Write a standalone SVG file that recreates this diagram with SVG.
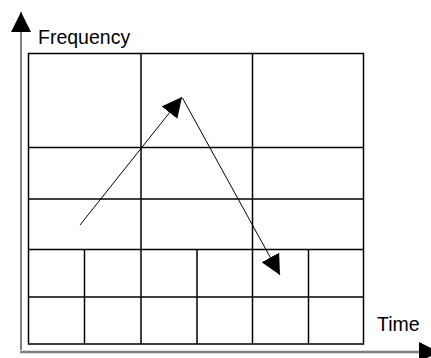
<svg xmlns="http://www.w3.org/2000/svg" width="431" height="358" viewBox="0 0 431 358">
<style>
.g{stroke:#000;stroke-width:1.5;fill:none}
.ar{stroke:#000;stroke-width:1;fill:none}
.t{font-family:"Liberation Sans",Arial,sans-serif;font-size:19.5px;fill:#000}
</style>
<defs>
<marker id="ah" markerUnits="userSpaceOnUse" markerWidth="20" markerHeight="20" refX="20" refY="10" orient="auto" viewBox="0 0 20 20">
<path d="M0,0 L20,10 L0,20 z" fill="#000"/>
</marker>
</defs>
<g id="axes">
<line x1="21" y1="350" x2="21" y2="12" class="ar" marker-end="url(#ah)"/>
<line x1="20" y1="352" x2="439" y2="352" stroke="#808080" stroke-width="2.5" marker-end="url(#ah)"/>
<text class="t" x="38" y="44">Frequency</text>
<text class="t" x="377" y="331">Time</text>
</g>
<g id="grid">
<rect x="28.5" y="53.5" width="335" height="290.5" class="g"/>
<line x1="28.5" y1="147.5" x2="363.5" y2="147.5" class="g"/>
<line x1="28.5" y1="199" x2="363.5" y2="199" class="g"/>
<line x1="28.5" y1="249.5" x2="363.5" y2="249.5" class="g"/>
<line x1="28.5" y1="297" x2="363.5" y2="297" class="g"/>
<line x1="141" y1="53.5" x2="141" y2="344" class="g"/>
<line x1="252.5" y1="53.5" x2="252.5" y2="344" class="g"/>
<line x1="84.5" y1="249.5" x2="84.5" y2="344" class="g"/>
<line x1="197" y1="249.5" x2="197" y2="344" class="g"/>
<line x1="308.5" y1="249.5" x2="308.5" y2="344" class="g"/>
</g>
<g id="connectors">
<line x1="80" y1="225" x2="182" y2="97" class="ar" marker-end="url(#ah)"/>
<line x1="182.5" y1="98" x2="280" y2="275" class="ar" marker-end="url(#ah)"/>
</g>
</svg>
